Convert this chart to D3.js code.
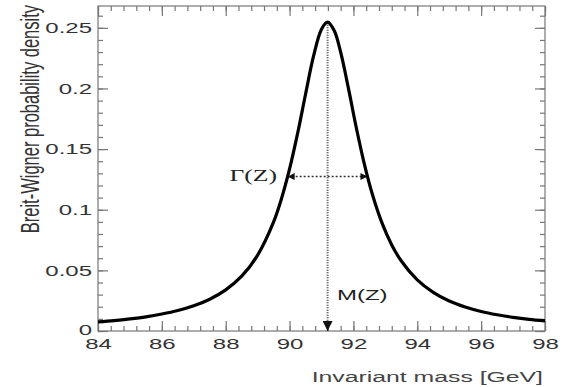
<!DOCTYPE html>
<html>
<head>
<meta charset="utf-8">
<script src="https://cdn.jsdelivr.net/npm/d3@7/dist/d3.min.js"></script>
<style>
  body { margin: 0; background: #fff; }
  svg { display: block; font-family: "Liberation Sans", Arial, sans-serif; }
</style>
</head>
<body>
<svg id="chart" width="568" height="387"></svg>
<script>
// points
const massGeV = [84, 84.5, 85, 85.5, 86, 86.5, 87, 87.5, 88, 88.5, 89, 89.5, 89.75, 90, 90.25, 90.5, 90.75, 91, 91.19,
  91.4, 91.6, 91.85, 92.1, 92.35, 92.6, 92.9, 93.2, 93.5, 94, 94.5, 95, 95.5, 96, 96.5, 97, 97.5, 98];
const density = [0.0075, 0.0086, 0.0100, 0.0117, 0.0140, 0.0169, 0.0208, 0.0262, 0.0339, 0.0452, 0.0626, 0.0900, 0.1094,
  0.1336, 0.1627, 0.1952, 0.2266, 0.2489, 0.2547, 0.2476, 0.2299, 0.1992, 0.1664, 0.1368, 0.1121, 0.0887, 0.0710,
  0.0577, 0.0421, 0.0318, 0.0247, 0.0198, 0.0161, 0.0134, 0.0113, 0.0096, 0.0083];

const xTickValues = [84, 86, 88, 90, 92, 94, 96, 98];
const yTickValues = [0, 0.05, 0.1, 0.15, 0.2, 0.25];
const yTickLabels = ["0", "0.05", "0.1", "0.15", "0.2", "0.25"];

const massZ = 91.19;
const widthZ = 2.5;
const peakDensity = 0.2547;

const plotLeft = 98, plotRight = 545, plotTop = 6, plotBottom = 331;
const stretch = 1.6; // text in the picture is wide

const svg = d3.select("#chart");

const x = d3.scaleLinear().domain([84, 98]).range([plotLeft, plotRight]);
const y = d3.scaleLinear().domain([0, 0.268]).range([plotBottom, plotTop]);

const axisColor = "#777";

// minor ticks
const xMinor = d3.range(84, 98.001, 0.4);
const yMinor = d3.range(0, 0.2681, 0.01);

function styleAxis(g) {
  g.select(".domain").remove();
  g.selectAll(".tick line").attr("stroke", axisColor).attr("stroke-width", 1.2);
}

// bottom
svg.append("g").attr("transform", `translate(0,${plotBottom})`)
  .call(d3.axisBottom(x).tickValues(xMinor).tickSize(-5).tickFormat(""))
  .call(styleAxis);
svg.append("g").attr("transform", `translate(0,${plotBottom})`)
  .call(d3.axisBottom(x).tickValues(xTickValues).tickSize(-10).tickPadding(7).tickFormat(d3.format("d")))
  .call(styleAxis)
  .call(g => g.selectAll("text")
    .attr("font-size", 15).attr("fill", "#333")
    .attr("font-family", "Liberation Sans, Arial, sans-serif")
    .attr("transform", `scale(${stretch},1)`));

// top
svg.append("g").attr("transform", `translate(0,${plotTop})`)
  .call(d3.axisTop(x).tickValues(xMinor).tickSize(-5).tickFormat(""))
  .call(styleAxis);
svg.append("g").attr("transform", `translate(0,${plotTop})`)
  .call(d3.axisTop(x).tickValues(xTickValues).tickSize(-10).tickFormat(""))
  .call(styleAxis);

// left
svg.append("g").attr("transform", `translate(${plotLeft},0)`)
  .call(d3.axisLeft(y).tickValues(yMinor).tickSize(-5).tickFormat(""))
  .call(styleAxis);
svg.append("g").attr("transform", `translate(${plotLeft},0)`)
  .call(d3.axisLeft(y).tickValues(yTickValues).tickSize(-10).tickFormat((d, i) => yTickLabels[i]))
  .call(styleAxis)
  .call(g => g.selectAll("text")
    .attr("font-size", 15).attr("fill", "#333")
    .attr("font-family", "Liberation Sans, Arial, sans-serif")
    .attr("x", -6 / stretch)
    .attr("dy", (d, i) => i === 0 ? "0.22em" : "0.32em")
    .attr("transform", `scale(${stretch},1)`));

// right
svg.append("g").attr("transform", `translate(${plotRight},0)`)
  .call(d3.axisRight(y).tickValues(yMinor).tickSize(-5).tickFormat(""))
  .call(styleAxis);
svg.append("g").attr("transform", `translate(${plotRight},0)`)
  .call(d3.axisRight(y).tickValues(yTickValues).tickSize(-10).tickFormat(""))
  .call(styleAxis);

// frame
svg.append("rect")
  .attr("x", plotLeft).attr("y", plotTop)
  .attr("width", plotRight - plotLeft).attr("height", plotBottom - plotTop)
  .attr("fill", "none").attr("stroke", axisColor).attr("stroke-width", 1.2);

// markers
const defs = svg.append("defs");
defs.append("marker")
  .attr("id", "tri").attr("markerUnits", "userSpaceOnUse")
  .attr("viewBox", "0 0 10 10").attr("refX", 10).attr("refY", 5)
  .attr("markerWidth", 10).attr("markerHeight", 10).attr("orient", "auto-start-reverse")
  .append("path").attr("d", "M0,0L10,5L0,10Z").attr("fill", "#111");
defs.append("marker")
  .attr("id", "small").attr("markerUnits", "userSpaceOnUse")
  .attr("viewBox", "0 0 10 10").attr("refX", 10).attr("refY", 5)
  .attr("markerWidth", 7).attr("markerHeight", 7).attr("orient", "auto-start-reverse")
  .append("path").attr("d", "M0,0L10,5L0,10Z").attr("fill", "#111");

// M(Z) line
svg.append("line")
  .attr("x1", x(massZ)).attr("x2", x(massZ))
  .attr("y1", y(peakDensity)).attr("y2", y(0))
  .attr("stroke", "#444").attr("stroke-width", 2)
  .attr("stroke-dasharray", "1,1.5")
  .attr("marker-end", "url(#tri)");

// Gamma arrow
const half = peakDensity / 2;
svg.append("line")
  .attr("x1", x(massZ - widthZ / 2)).attr("x2", x(massZ + widthZ / 2))
  .attr("y1", y(half)).attr("y2", y(half))
  .attr("stroke", "#333").attr("stroke-width", 1.5)
  .attr("stroke-dasharray", "2,2")
  .attr("marker-start", "url(#small)")
  .attr("marker-end", "url(#small)");

// curve
const line = d3.line()
  .x((d, i) => x(massGeV[i]))
  .y(d => y(d))
  .curve(d3.curveCatmullRom);

svg.append("path")
  .datum(density)
  .attr("d", line)
  .attr("fill", "none")
  .attr("stroke", "#000")
  .attr("stroke-width", 3.2)
  .attr("stroke-linejoin", "round");

// labels
svg.append("text")
  .attr("transform", `translate(277,181) scale(${stretch},1)`)
  .attr("text-anchor", "end")
  .attr("font-family", "Liberation Serif, Times New Roman, serif")
  .attr("font-size", 16).attr("fill", "#222")
  .text("Γ(Z)");

svg.append("text")
  .attr("transform", `translate(337,300) scale(${stretch},1)`)
  .attr("font-size", 15).attr("fill", "#222")
  .text("M(Z)");

svg.append("text")
  .attr("transform", `translate(543,382) scale(${stretch},1)`)
  .attr("text-anchor", "end")
  .attr("font-size", 15.5).attr("fill", "#444")
  .text("Invariant mass [GeV]");

svg.append("text")
  .attr("transform", `translate(39,5) rotate(-90) scale(1,${stretch})`)
  .attr("text-anchor", "end")
  .attr("font-size", 16.5).attr("fill", "#333")
  .text("Breit-Wigner probability density");
</script>
</body>
</html>
